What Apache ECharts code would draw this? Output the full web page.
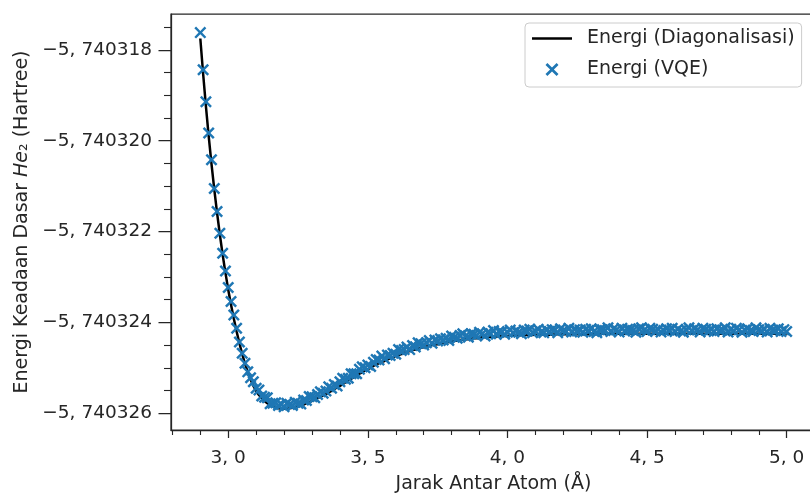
<!DOCTYPE html>
<html>
<head>
<meta charset="utf-8">
<script src="https://cdn.jsdelivr.net/npm/echarts@6/dist/echarts.min.js"></script>
<style>
  html, body { margin: 0; padding: 0; background: #fff; }
  #chart { width: 810px; height: 497px; }
</style>
</head>
<body>
<div id="chart"></div>
<script>
// jarak antar atom (Angstrom)
var jarak = [
  2.90, 2.91, 2.92, 2.93, 2.94, 2.95, 2.96, 2.97, 2.98, 2.99,
  3.00, 3.01, 3.02, 3.03, 3.04, 3.05, 3.06, 3.07, 3.08, 3.09,
  3.10, 3.11, 3.12, 3.13, 3.14, 3.15, 3.16, 3.17, 3.18, 3.19,
  3.20, 3.21, 3.22, 3.23, 3.24, 3.25, 3.26, 3.27, 3.28, 3.29,
  3.30, 3.31, 3.32, 3.33, 3.34, 3.35, 3.36, 3.37, 3.38, 3.39,
  3.40, 3.41, 3.42, 3.43, 3.44, 3.45, 3.46, 3.47, 3.48, 3.49,
  3.50, 3.51, 3.52, 3.53, 3.54, 3.55, 3.56, 3.57, 3.58, 3.59,
  3.60, 3.61, 3.62, 3.63, 3.64, 3.65, 3.66, 3.67, 3.68, 3.69,
  3.70, 3.71, 3.72, 3.73, 3.74, 3.75, 3.76, 3.77, 3.78, 3.79,
  3.80, 3.81, 3.82, 3.83, 3.84, 3.85, 3.86, 3.87, 3.88, 3.89,
  3.90, 3.91, 3.92, 3.93, 3.94, 3.95, 3.96, 3.97, 3.98, 3.99,
  4.00, 4.01, 4.02, 4.03, 4.04, 4.05, 4.06, 4.07, 4.08, 4.09,
  4.10, 4.11, 4.12, 4.13, 4.14, 4.15, 4.16, 4.17, 4.18, 4.19,
  4.20, 4.21, 4.22, 4.23, 4.24, 4.25, 4.26, 4.27, 4.28, 4.29,
  4.30, 4.31, 4.32, 4.33, 4.34, 4.35, 4.36, 4.37, 4.38, 4.39,
  4.40, 4.41, 4.42, 4.43, 4.44, 4.45, 4.46, 4.47, 4.48, 4.49,
  4.50, 4.51, 4.52, 4.53, 4.54, 4.55, 4.56, 4.57, 4.58, 4.59,
  4.60, 4.61, 4.62, 4.63, 4.64, 4.65, 4.66, 4.67, 4.68, 4.69,
  4.70, 4.71, 4.72, 4.73, 4.74, 4.75, 4.76, 4.77, 4.78, 4.79,
  4.80, 4.81, 4.82, 4.83, 4.84, 4.85, 4.86, 4.87, 4.88, 4.89,
  4.90, 4.91, 4.92, 4.93, 4.94, 4.95, 4.96, 4.97, 4.98, 4.99,
  5.00
];

// energi hasil diagonalisasi (Hartree)
var energiDiagonalisasi = [
  -5.74031775, -5.74031852, -5.74031924, -5.74031990, -5.74032051, -5.74032107, -5.74032159, -5.74032207, -5.74032251, -5.74032291,
  -5.74032328, -5.74032361, -5.74032392, -5.74032420, -5.74032446, -5.74032470, -5.74032491, -5.74032510, -5.74032526, -5.74032540,
  -5.74032551, -5.74032560, -5.74032567, -5.74032573, -5.74032578, -5.74032582, -5.74032585, -5.74032587, -5.74032589, -5.74032590,
  -5.74032590, -5.74032590, -5.74032589, -5.74032588, -5.74032587, -5.74032585, -5.74032583, -5.74032581, -5.74032578, -5.74032576,
  -5.74032573, -5.74032570, -5.74032567, -5.74032564, -5.74032561, -5.74032558, -5.74032554, -5.74032551, -5.74032547, -5.74032543,
  -5.74032540, -5.74032536, -5.74032532, -5.74032528, -5.74032524, -5.74032521, -5.74032517, -5.74032513, -5.74032510, -5.74032506,
  -5.74032503, -5.74032500, -5.74032496, -5.74032493, -5.74032490, -5.74032487, -5.74032485, -5.74032482, -5.74032479, -5.74032477,
  -5.74032474, -5.74032472, -5.74032470, -5.74032467, -5.74032465, -5.74032463, -5.74032461, -5.74032460, -5.74032458, -5.74032456,
  -5.74032455, -5.74032453, -5.74032452, -5.74032450, -5.74032449, -5.74032448, -5.74032447, -5.74032445, -5.74032444, -5.74032443,
  -5.74032442, -5.74032441, -5.74032440, -5.74032439, -5.74032438, -5.74032437, -5.74032437, -5.74032436, -5.74032435, -5.74032435,
  -5.74032434, -5.74032433, -5.74032433, -5.74032432, -5.74032432, -5.74032431, -5.74032431, -5.74032431, -5.74032430, -5.74032430,
  -5.74032430, -5.74032429, -5.74032429, -5.74032429, -5.74032429, -5.74032428, -5.74032428, -5.74032428, -5.74032428, -5.74032428,
  -5.74032427, -5.74032427, -5.74032427, -5.74032427, -5.74032427, -5.74032427, -5.74032427, -5.74032426, -5.74032426, -5.74032426,
  -5.74032426, -5.74032426, -5.74032426, -5.74032426, -5.74032426, -5.74032426, -5.74032426, -5.74032426, -5.74032426, -5.74032426,
  -5.74032426, -5.74032426, -5.74032426, -5.74032426, -5.74032425, -5.74032425, -5.74032425, -5.74032425, -5.74032425, -5.74032425,
  -5.74032425, -5.74032425, -5.74032425, -5.74032425, -5.74032425, -5.74032425, -5.74032425, -5.74032425, -5.74032425, -5.74032425,
  -5.74032425, -5.74032425, -5.74032425, -5.74032425, -5.74032425, -5.74032425, -5.74032425, -5.74032425, -5.74032425, -5.74032425,
  -5.74032425, -5.74032425, -5.74032425, -5.74032425, -5.74032425, -5.74032425, -5.74032425, -5.74032425, -5.74032425, -5.74032425,
  -5.74032425, -5.74032425, -5.74032425, -5.74032425, -5.74032425, -5.74032425, -5.74032425, -5.74032425, -5.74032425, -5.74032425,
  -5.74032425, -5.74032425, -5.74032425, -5.74032425, -5.74032425, -5.74032425, -5.74032425, -5.74032425, -5.74032425, -5.74032425,
  -5.74032425, -5.74032425, -5.74032425, -5.74032425, -5.74032425, -5.74032425, -5.74032425, -5.74032425, -5.74032425, -5.74032425,
  -5.74032425
];

// energi hasil VQE (Hartree)
var energiVQE = [
  -5.74031762, -5.74031844, -5.74031914, -5.74031983, -5.74032042, -5.74032105, -5.74032156, -5.74032204, -5.74032248, -5.74032287,
  -5.74032323, -5.74032354, -5.74032384, -5.74032413, -5.74032443, -5.74032468, -5.74032490, -5.74032509, -5.74032522, -5.74032531,
  -5.74032545, -5.74032549, -5.74032562, -5.74032565, -5.74032566, -5.74032579, -5.74032578, -5.74032577, -5.74032583, -5.74032581,
  -5.74032586, -5.74032578, -5.74032581, -5.74032583, -5.74032576, -5.74032578, -5.74032580, -5.74032571, -5.74032572, -5.74032563,
  -5.74032564, -5.74032566, -5.74032559, -5.74032553, -5.74032556, -5.74032551, -5.74032542, -5.74032545, -5.74032537, -5.74032540,
  -5.74032531, -5.74032523, -5.74032525, -5.74032523, -5.74032513, -5.74032513, -5.74032513, -5.74032503, -5.74032498, -5.74032500,
  -5.74032494, -5.74032497, -5.74032488, -5.74032482, -5.74032483, -5.74032474, -5.74032480, -5.74032472, -5.74032473, -5.74032468,
  -5.74032470, -5.74032460, -5.74032462, -5.74032460, -5.74032454, -5.74032460, -5.74032451, -5.74032454, -5.74032445, -5.74032447,
  -5.74032450, -5.74032445, -5.74032440, -5.74032446, -5.74032439, -5.74032441, -5.74032436, -5.74032439, -5.74032435, -5.74032440,
  -5.74032430, -5.74032433, -5.74032435, -5.74032429, -5.74032425, -5.74032430, -5.74032433, -5.74032425, -5.74032426, -5.74032429,
  -5.74032422, -5.74032425, -5.74032430, -5.74032422, -5.74032425, -5.74032418, -5.74032426, -5.74032420, -5.74032421, -5.74032426,
  -5.74032422, -5.74032417, -5.74032423, -5.74032419, -5.74032422, -5.74032425, -5.74032417, -5.74032419, -5.74032415, -5.74032423,
  -5.74032419, -5.74032415, -5.74032421, -5.74032423, -5.74032417, -5.74032420, -5.74032416, -5.74032417, -5.74032423, -5.74032414,
  -5.74032418, -5.74032420, -5.74032413, -5.74032421, -5.74032416, -5.74032419, -5.74032417, -5.74032422, -5.74032415, -5.74032418,
  -5.74032414, -5.74032420, -5.74032423, -5.74032416, -5.74032416, -5.74032418, -5.74032412, -5.74032420, -5.74032414, -5.74032417,
  -5.74032421, -5.74032413, -5.74032419, -5.74032415, -5.74032416, -5.74032418, -5.74032422, -5.74032414, -5.74032412, -5.74032417,
  -5.74032420, -5.74032413, -5.74032415, -5.74032419, -5.74032416, -5.74032421, -5.74032418, -5.74032414, -5.74032417, -5.74032413,
  -5.74032420, -5.74032415, -5.74032419, -5.74032422, -5.74032416, -5.74032412, -5.74032418, -5.74032414, -5.74032417, -5.74032421,
  -5.74032413, -5.74032415, -5.74032419, -5.74032416, -5.74032420, -5.74032414, -5.74032418, -5.74032417, -5.74032412, -5.74032421,
  -5.74032415, -5.74032419, -5.74032413, -5.74032416, -5.74032422, -5.74032417, -5.74032414, -5.74032418, -5.74032420, -5.74032412,
  -5.74032416, -5.74032419, -5.74032415, -5.74032421, -5.74032413, -5.74032417, -5.74032418, -5.74032414, -5.74032420, -5.74032416,
  -5.74032420
];

// tick axis
var tickX = [3.0, 3.5, 4.0, 4.5, 5.0];
var minorTickX = [2.8, 2.9, 3.1, 3.2, 3.3, 3.4, 3.6, 3.7, 3.8, 3.9, 4.1, 4.2, 4.3, 4.4, 4.6, 4.7, 4.8, 4.9, 5.1];
var tickY = [-5.740318, -5.740320, -5.740322, -5.740324, -5.740326];
var minorTickY = [-5.7403175, -5.7403185, -5.740319, -5.7403195, -5.7403205, -5.740321, -5.7403215,
                  -5.7403225, -5.740323, -5.7403235, -5.7403245, -5.740325, -5.7403255];

var xMin = 2.795, xMax = 5.105;
var yMin = -5.74032637, yMax = -5.74031721;

var fontName = 'DejaVu Sans';
var axisColor = '#262626';
var silang = 'path://M1.45,0L5,3.55L8.55,0L10,1.45L6.45,5L10,8.55L8.55,10L5,6.45L1.45,10L0,8.55L3.55,5L0,1.45Z';
var garis = 'path://M0,0L40,0L40,2.5L0,2.5Z';

function labelX(v) {
    return v.toFixed(1).replace('.', ', ');
}

function labelY(v) {
    return '\u2212' + Math.abs(v).toFixed(6).replace('.', ', ');
}

var chart = echarts.init(document.getElementById('chart'), null, {renderer: 'canvas'});

var option = {
    animation: false,
    backgroundColor: '#fff',
    textStyle: { fontFamily: fontName },
    grid: {
        left: 171,
        top: 14,
        width: 645,
        height: 416,
        show: true,
        borderColor: axisColor,
        borderWidth: 1.25,
        backgroundColor: 'transparent',
        outerBoundsMode: 'none'
    },
    legend: {
        orient: 'vertical',
        left: 525,
        top: 23,
        padding: [6, 7, 8, 7],
        itemWidth: 40,
        itemHeight: 13,
        itemGap: 12,
        backgroundColor: 'rgba(255,255,255,0.8)',
        borderColor: '#cccccc',
        borderWidth: 1,
        borderRadius: 4,
        textStyle: {
            fontFamily: fontName,
            fontSize: 19,
            color: '#262626',
            lineHeight: 18,
            padding: [0, 0, 0, 10]
        },
        data: [
            { name: 'Energi (Diagonalisasi)', icon: garis, itemStyle: { color: '#000' } },
            { name: 'Energi (VQE)' }
        ]
    },
    xAxis: [{
        type: 'value',
        min: xMin,
        max: xMax,
        position: 'bottom',
        name: 'Jarak Antar Atom (\u00c5)',
        nameLocation: 'middle',
        nameGap: 45,
        nameTextStyle: { fontFamily: fontName, fontSize: 19, color: '#262626' },
        axisLine: { show: true, onZero: false, lineStyle: { color: axisColor, width: 1.25 } },
        axisTick: { show: true, inside: false, length: 8, customValues: tickX,
                    lineStyle: { color: axisColor, width: 1.25 } },
        axisLabel: { show: true, margin: 19, customValues: tickX, formatter: labelX,
                     fontFamily: fontName, fontSize: 18.5, color: '#262626' },
        splitLine: { show: false }
    }, {
        type: 'value',
        min: xMin,
        max: xMax,
        position: 'bottom',
        axisLine: { show: false, onZero: false },
        axisTick: { show: true, inside: false, length: 5, customValues: minorTickX,
                    lineStyle: { color: axisColor, width: 1.1 } },
        axisLabel: { show: false },
        splitLine: { show: false }
    }],
    yAxis: [{
        type: 'value',
        min: yMin,
        max: yMax,
        position: 'left',
        name: '{n|Energi Keadaan Dasar }{i|He}{n|\u2082 (Hartree)}',
        nameLocation: 'middle',
        nameRotate: 90,
        nameGap: 139,
        nameTextStyle: {
            fontFamily: fontName, fontSize: 19, color: '#262626',
            rich: {
                n: { fontFamily: fontName, fontSize: 19, color: '#262626' },
                i: { fontFamily: fontName, fontSize: 19, color: '#262626', fontStyle: 'italic' }
            }
        },
        axisLine: { show: true, onZero: false, lineStyle: { color: axisColor, width: 1.25 } },
        axisTick: { show: true, inside: false, length: 12.5, customValues: tickY,
                    lineStyle: { color: axisColor, width: 1.25 } },
        axisLabel: { show: true, margin: 19, customValues: tickY, formatter: labelY,
                     fontFamily: fontName, fontSize: 18.5, color: '#262626' },
        splitLine: { show: false }
    }, {
        type: 'value',
        min: yMin,
        max: yMax,
        position: 'left',
        axisLine: { show: false, onZero: false },
        axisTick: { show: true, inside: false, length: 7, customValues: minorTickY,
                    lineStyle: { color: axisColor, width: 1.1 } },
        axisLabel: { show: false },
        splitLine: { show: false }
    }],
    series: [{
        name: 'Energi (Diagonalisasi)',
        type: 'line',
        xAxisIndex: 0,
        yAxisIndex: 0,
        data: jarak.map(function (x, i) { return [x, energiDiagonalisasi[i]]; }),
        symbol: 'none',
        showSymbol: false,
        lineStyle: { color: '#000', width: 2.5 },
        itemStyle: { color: '#000' },
        z: 2,
        silent: true
    }, {
        name: 'Energi (VQE)',
        type: 'scatter',
        xAxisIndex: 0,
        yAxisIndex: 0,
        data: jarak.map(function (x, i) { return [x, energiVQE[i]]; }),
        symbol: silang,
        symbolSize: 12,
        itemStyle: { color: '#1f77b4', opacity: 1 },
        z: 3,
        silent: true
    }]
};

chart.setOption(option);
</script>
</body>
</html>
